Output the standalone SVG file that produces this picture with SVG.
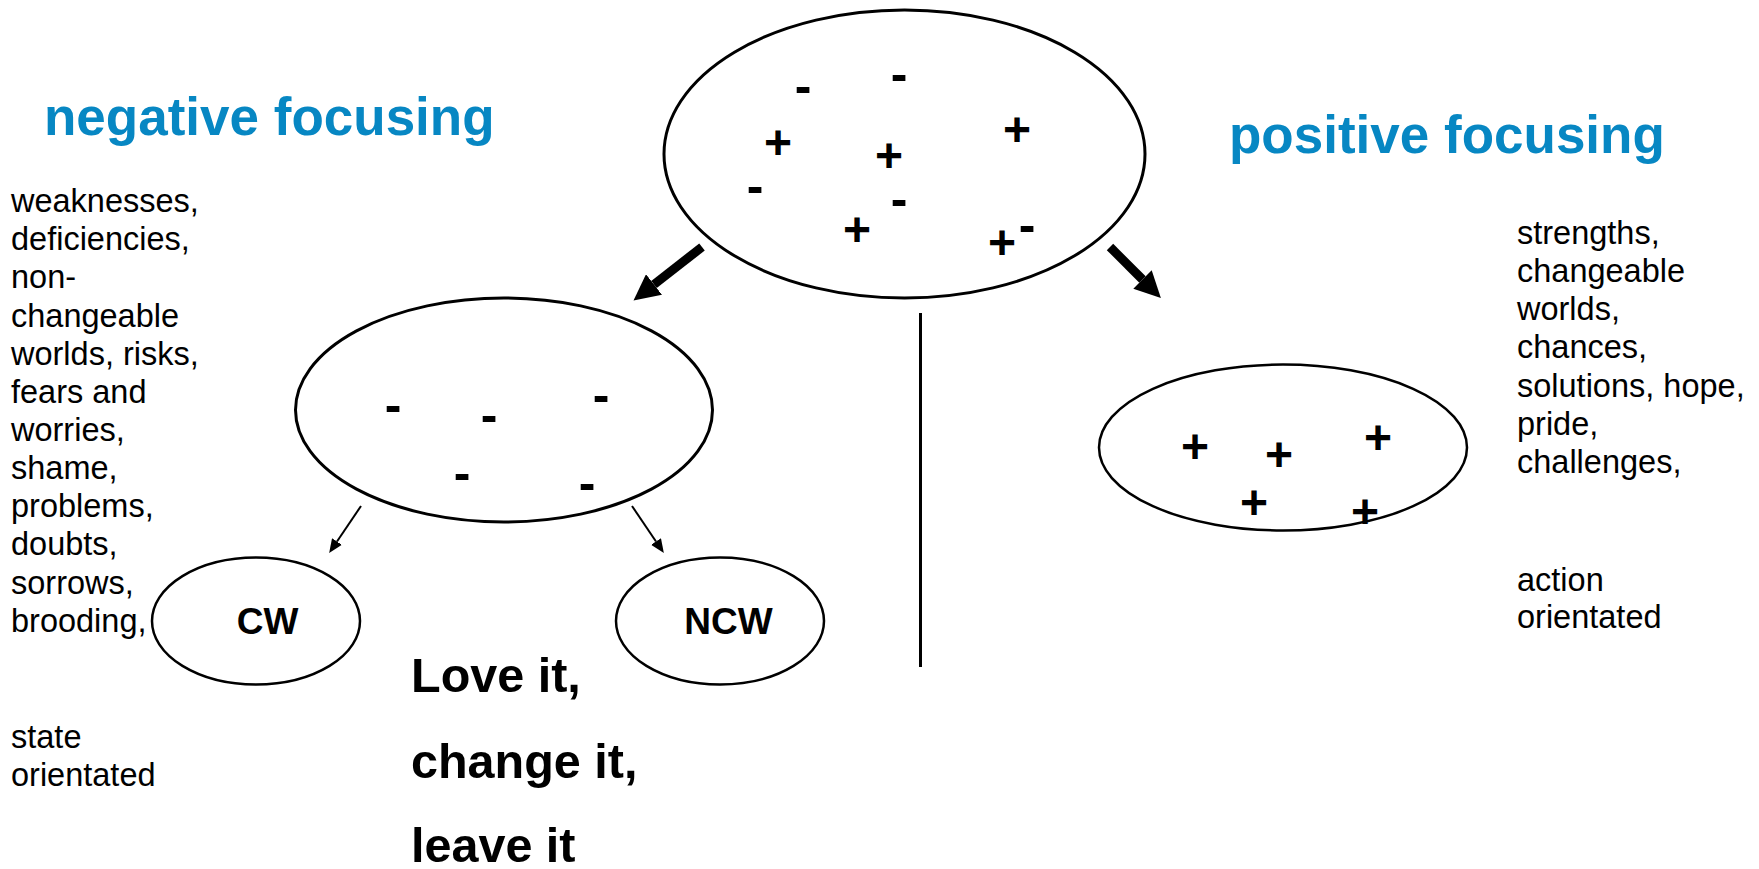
<svg xmlns="http://www.w3.org/2000/svg" width="1759" height="869" viewBox="0 0 1759 869">
  <style>
    .bg { fill: #ffffff; }
    .oval { fill: none; stroke: #000000; stroke-width: 3; }
    .oval-thin { fill: none; stroke: #000000; stroke-width: 2.5; }
    .title { font-family: "Liberation Sans", Arial, sans-serif; font-weight: bold; font-size: 53px; fill: #0787c3; }
    .body { font-family: "Liberation Sans", Arial, sans-serif; font-size: 32.5px; fill: #000000; }
    .label { font-family: "Liberation Sans", Arial, sans-serif; font-weight: bold; font-size: 37px; fill: #000000; text-anchor: middle; }
    .motto { font-family: "Liberation Sans", Arial, sans-serif; font-weight: bold; font-size: 48.5px; fill: #000000; }
    .plus { font-family: "Liberation Sans", Arial, sans-serif; font-weight: bold; font-size: 48px; fill: #000000; text-anchor: middle; }
    .minus { font-family: "Liberation Sans", Arial, sans-serif; font-weight: bold; font-size: 50px; fill: #000000; text-anchor: middle; }
    .thick { stroke: #000000; stroke-width: 9; fill: none; }
    .thin { stroke: #000000; stroke-width: 2; fill: none; }
    .divider { stroke: #000000; stroke-width: 3; }
  </style>
  <defs>
    <marker id="headBig" markerUnits="userSpaceOnUse" markerWidth="26" markerHeight="26" viewBox="0 0 26 26" refX="0" refY="13" orient="auto">
      <path d="M0,0 L26,13 L0,26 Z" fill="#000000"/>
    </marker>
    <marker id="headSmall" markerUnits="userSpaceOnUse" markerWidth="14" markerHeight="12" viewBox="0 0 14 12" refX="0" refY="6" orient="auto">
      <path d="M0,0 L14,6 L0,12 Z" fill="#000000"/>
    </marker>
  </defs>

  <rect class="bg" x="0" y="0" width="1759" height="869"/>

  <!-- headings -->
  <text class="title" x="44" y="135">negative focusing</text>
  <text class="title" x="1229" y="153">positive focusing</text>

  <!-- mixed world: pluses and minuses -->
  <g id="node-mixed">
    <ellipse class="oval" cx="904.5" cy="154" rx="240.5" ry="144"/>
    <text class="minus" x="803" y="103">-</text>
    <text class="minus" x="899" y="91">-</text>
    <text class="plus" x="778" y="158.5">+</text>
    <text class="plus" x="889" y="171.5">+</text>
    <text class="plus" x="1017" y="145.5">+</text>
    <text class="minus" x="755" y="203">-</text>
    <text class="minus" x="899" y="216">-</text>
    <text class="plus" x="857" y="245.5">+</text>
    <text class="plus" x="1002" y="258.5">+</text>
    <text class="minus" x="1027" y="242">-</text>
  </g>

  <!-- negative world -->
  <g id="node-negative">
    <ellipse class="oval" cx="504" cy="410" rx="208.5" ry="112"/>
    <text class="minus" x="393" y="422">-</text>
    <text class="minus" x="489" y="432">-</text>
    <text class="minus" x="601" y="412">-</text>
    <text class="minus" x="462" y="490">-</text>
    <text class="minus" x="587" y="500">-</text>
  </g>

  <!-- positive world -->
  <g id="node-positive">
    <ellipse class="oval-thin" cx="1283" cy="447.5" rx="184" ry="83"/>
    <text class="plus" x="1195" y="463">+</text>
    <text class="plus" x="1279" y="471">+</text>
    <text class="plus" x="1378" y="454">+</text>
    <text class="plus" x="1254" y="519">+</text>
    <text class="plus" x="1365" y="528">+</text>
  </g>

  <!-- changeable worlds -->
  <g id="node-cw">
    <ellipse class="oval-thin" cx="256" cy="621" rx="104" ry="63.5"/>
    <text class="label" x="267.5" y="634">CW</text>
  </g>

  <!-- non-changeable worlds -->
  <g id="node-ncw">
    <ellipse class="oval-thin" cx="720" cy="621" rx="104" ry="63.5"/>
    <text class="label" x="728.5" y="634">NCW</text>
  </g>

  <!-- arrows between the worlds -->
  <g id="connectors">
    <line class="thick" x1="702" y1="247" x2="654" y2="284.5" marker-end="url(#headBig)"/>
    <line class="thick" x1="1110" y1="247" x2="1142.5" y2="279.5" marker-end="url(#headBig)"/>
    <line class="thin" x1="361" y1="506" x2="337" y2="541.5" marker-end="url(#headSmall)"/>
    <line class="thin" x1="632" y1="506" x2="656" y2="541.5" marker-end="url(#headSmall)"/>
  </g>

  <!-- separator between the two sides -->
  <line class="divider" x1="920.5" y1="313" x2="920.5" y2="667"/>

  <!-- negative side list -->
  <text class="body" x="11">
    <tspan x="11" y="212">weaknesses,</tspan>
    <tspan x="11" y="250.2">deficiencies,</tspan>
    <tspan x="11" y="288.3">non-</tspan>
    <tspan x="11" y="326.5">changeable</tspan>
    <tspan x="11" y="364.6">worlds, risks,</tspan>
    <tspan x="11" y="402.8">fears and</tspan>
    <tspan x="11" y="440.9">worries,</tspan>
    <tspan x="11" y="479.1">shame,</tspan>
    <tspan x="11" y="517.2">problems,</tspan>
    <tspan x="11" y="555.4">doubts,</tspan>
    <tspan x="11" y="593.5">sorrows,</tspan>
    <tspan x="11" y="631.7">brooding,</tspan>
  </text>
  <text class="body" x="11">
    <tspan x="11" y="748">state</tspan>
    <tspan x="11" y="786">orientated</tspan>
  </text>

  <!-- positive side list -->
  <text class="body" x="1517">
    <tspan x="1517" y="243.5">strengths,</tspan>
    <tspan x="1517" y="281.8">changeable</tspan>
    <tspan x="1517" y="320">worlds,</tspan>
    <tspan x="1517" y="358.3">chances,</tspan>
    <tspan x="1517" y="396.5">solutions, hope,</tspan>
    <tspan x="1517" y="434.8">pride,</tspan>
    <tspan x="1517" y="473">challenges,</tspan>
  </text>
  <text class="body" x="1517">
    <tspan x="1517" y="590.5">action</tspan>
    <tspan x="1517" y="627.5">orientated</tspan>
  </text>

  <!-- motto -->
  <text class="motto" x="411">
    <tspan x="411" y="691.7">Love it,</tspan>
    <tspan x="411" y="778.3">change it,</tspan>
    <tspan x="411" y="862">leave it</tspan>
  </text>
</svg>
